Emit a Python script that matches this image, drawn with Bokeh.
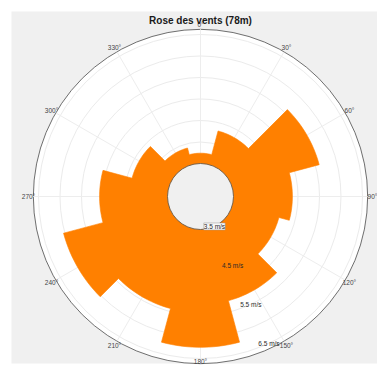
import numpy as np
from bokeh.plotting import figure
from bokeh.models import Range1d, Label
from bokeh.core.properties import value
from bokeh.embed import file_html
from bokeh.resources import INLINE

# Mean wind speed per 30-degree direction sector (compass bearing, m/s)
directions = [0, 30, 60, 90, 120, 150, 180, 210, 240, 270, 300, 330]
mean_speed = [3.74, 4.31, 5.59, 4.87, 4.62, 5.24, 6.24, 5.43, 6.03, 5.08, 4.38, 3.90]
sector_width = 30

# Radial axis
speed_min = 3.5
speed_max = 6.62
grid_speeds = [4.0, 4.5, 5.0, 5.5, 6.0, 6.5]
tick_speeds = [3.5, 4.5, 5.5, 6.5]
tick_labels = ["3.5 m/s", "4.5 m/s", "5.5 m/s", "6.5 m/s"]
angle_ticks = [0, 30, 60, 90, 120, 150, 180, 210, 240, 270, 300, 330]
angle_labels = [f"{a}°" for a in angle_ticks]

title_text = "Rose des vents (78m)"

# Geometry of the rose (screen units)
HOLE = 33.0          # radius of the empty centre
PX_PER_MS = 43.0     # radial scale
W, H = 377, 365
CX, CY = 200, 196    # centre of the rose measured from the top-left corner

FONT = value("Liberation Sans")


def rad(v):
    return HOLE + (np.asarray(v, dtype=float) - speed_min) * PX_PER_MS


def math_angle(bearing_deg):
    # compass bearing (clockwise from north) -> radians anticlockwise from +x
    return np.deg2rad(90.0 - np.asarray(bearing_deg, dtype=float))


p = figure(width=W, height=H, output_backend="svg", toolbar_location=None,
           x_range=Range1d(-CX, W - CX), y_range=Range1d(-(H - CY), CY),
           min_border=0, background_fill_color="white",
           border_fill_color="white")
p.axis.visible = False
p.grid.visible = False
p.outline_line_color = None

# grey panel behind the polar axes
p.quad(left=[-CX + 11], right=[W - CX], top=[CY - 11], bottom=[-(H - CY) + 2],
       fill_color="#f0f0f0", line_color=None)

R_OUT = float(rad(speed_max))

# white polar disc with its outer rim
p.circle(x=[0], y=[0], radius=R_OUT, fill_color="white",
         line_color="#4a4a4a", line_width=0.8)

# faint grid circles
for g in grid_speeds:
    p.circle(x=[0], y=[0], radius=float(rad(g)), fill_color=None,
             line_color="#ebebeb", line_width=1)

# faint spokes at the labelled bearings
sp = math_angle(angle_ticks)
p.segment(x0=HOLE * np.cos(sp), y0=HOLE * np.sin(sp),
          x1=R_OUT * np.cos(sp), y1=R_OUT * np.sin(sp),
          line_color="#ededed", line_width=1)

# sectors, traced as one outline so neighbouring bars share their edges
px, py = [], []
for d, v in zip(directions, mean_speed):
    r = float(rad(v))
    b = np.linspace(d - sector_width / 2, d + sector_width / 2, 16)
    a = math_angle(b)
    px.extend(r * np.cos(a))
    py.extend(r * np.sin(a))
p.patch(x=px, y=py, fill_color="#ff8000", line_color="#ff8000", line_width=0.6)

# centre hole
p.circle(x=[0], y=[0], radius=HOLE, fill_color="#f0f0f0",
         line_color="#6b5a48", line_width=0.9)

# bearing labels around the rim
la = math_angle(angle_ticks)
lx = 172 * np.cos(la)
ly = 172 * np.sin(la)
ly = np.maximum(ly, -(H - CY) + 4)   # keep the bottom label inside the page
p.text(x=lx, y=ly, text=angle_labels,
       text_align="center", text_baseline="middle", text_font=FONT,
       text_font_size="6.5px", text_color="#444444")

# speed labels along the 155 degree bearing
ta = float(math_angle(155))
tr = rad(tick_speeds)
for i, (r, t) in enumerate(zip(tr, tick_labels)):
    lab = Label(x=float(r * np.cos(ta)), y=float(r * np.sin(ta)), text=t,
                text_align="center", text_baseline="middle",
                text_font="Liberation Sans", text_font_size="6.5px",
                text_color="#2a2a2a")
    if i == 0:
        lab.background_fill_color = "#f7f7f7"
        lab.border_line_color = "#9a9a9a"
        lab.border_line_width = 0.5
    p.add_layout(lab)

# title
p.text(x=[0], y=[CY - 20], text=[title_text], text_align="center",
       text_baseline="middle", text_font=FONT, text_font_size="10px",
       text_font_style="bold", text_color="#1a1a1a")

open("out.html", "w").write(file_html(p, INLINE))
